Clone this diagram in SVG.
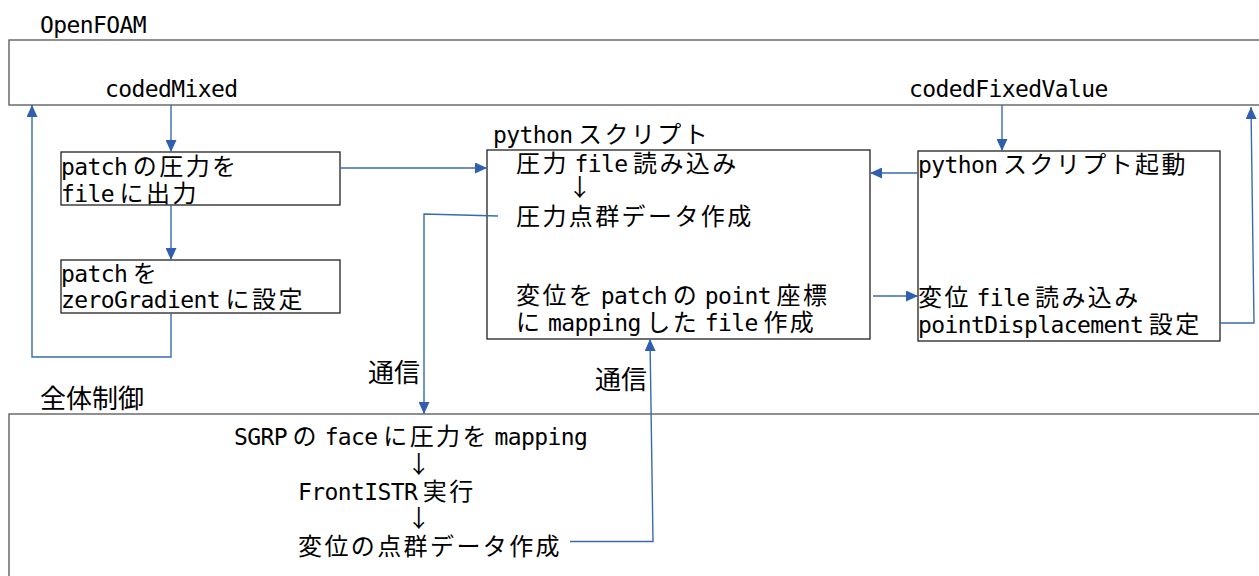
<svg xmlns="http://www.w3.org/2000/svg" width="1259" height="576" viewBox="0 0 1259 576">
<defs>
<style>
.t{font-family:"DejaVu Sans Mono","Noto Sans CJK JP",monospace;font-size:23px;letter-spacing:-0.6px;fill:#000}
.j{font-family:"Noto Sans CJK JP",sans-serif;font-size:24px;letter-spacing:2.4px}
.s{font-family:"Noto Sans CJK JP",sans-serif;font-size:25px;letter-spacing:0}
.lab{font-family:"Noto Sans CJK JP",sans-serif;font-size:26px;fill:#000}
.grp{fill:#fff;stroke:#555;stroke-width:1.3}
.box{fill:#fff;stroke:#222;stroke-width:1.3}
.c{fill:none;stroke:#3a69b4;stroke-width:1.4}
.m{text-anchor:middle}
</style>
<marker id="ah" markerUnits="userSpaceOnUse" markerWidth="12" markerHeight="11" refX="12" refY="5.5" orient="auto">
<path d="M0,0 L12,5.5 L0,11 z" fill="#2f5fae"/>
</marker>
</defs>
<rect width="1259" height="576" fill="#fff"/>

<g id="openfoam">
<rect class="grp" x="9" y="40" width="1260" height="65"/>
<text class="t" x="40" y="33">OpenFOAM</text>
<text class="t" x="105" y="97">codedMixed</text>
<text class="t" x="909" y="97">codedFixedValue</text>
</g>

<g id="zentai">
<rect class="grp" x="9" y="414" width="1260" height="200"/>
<text class="lab" x="40" y="408">全体制御</text>
<text class="t" x="234" y="445">SGRP<tspan class="s"> </tspan><tspan class="j">の</tspan><tspan class="s"> </tspan>face<tspan class="s"> </tspan><tspan class="j">に圧力を</tspan><tspan class="s"> </tspan>mapping</text>
<text class="t m" x="420" y="473"><tspan class="j">↓</tspan></text>
<text class="t" x="298" y="500">FrontISTR<tspan class="s"> </tspan><tspan class="j">実行</tspan></text>
<text class="t m" x="420" y="527"><tspan class="j">↓</tspan></text>
<text class="t" x="298" y="555"><tspan class="j">変位の点群データ作成</tspan></text>
</g>

<g id="boxA">
<rect class="box" x="61" y="152" width="279" height="53"/>
<text class="t" x="61" y="175">patch<tspan class="s"> </tspan><tspan class="j">の圧力を</tspan></text>
<text class="t" x="61" y="201.5">file<tspan class="s"> </tspan><tspan class="j">に出力</tspan></text>
</g>

<g id="boxB">
<rect class="box" x="61" y="260" width="279" height="53"/>
<text class="t" x="61" y="281.5">patch<tspan class="s"> </tspan><tspan class="j">を</tspan></text>
<text class="t" x="61" y="308">zeroGradient<tspan class="s"> </tspan><tspan class="j">に設定</tspan></text>
</g>

<g id="python">
<rect class="box" x="487" y="150" width="383" height="189"/>
<text class="t" x="493" y="143">python<tspan class="s"> </tspan><tspan class="j">スクリプト</tspan></text>
<text class="t" x="516" y="171.5"><tspan class="j">圧力</tspan><tspan class="s"> </tspan>file<tspan class="s"> </tspan><tspan class="j">読み込み</tspan></text>
<text class="t m" x="581" y="196"><tspan class="j">↓</tspan></text>
<text class="t" x="516" y="225"><tspan class="j">圧力点群データ作成</tspan></text>
<text class="t" x="516" y="304"><tspan class="j">変位を</tspan><tspan class="s"> </tspan>patch<tspan class="s"> </tspan><tspan class="j">の</tspan><tspan class="s"> </tspan>point<tspan class="s"> </tspan><tspan class="j">座標</tspan></text>
<text class="t" x="516" y="331"><tspan class="j">に</tspan><tspan class="s"> </tspan>mapping<tspan class="s"> </tspan><tspan class="j">した</tspan><tspan class="s"> </tspan>file<tspan class="s"> </tspan><tspan class="j">作成</tspan></text>
</g>

<g id="launcher">
<rect class="box" x="918" y="151" width="302" height="190"/>
<text class="t" x="918" y="173">python<tspan class="s"> </tspan><tspan class="j">スクリプト起動</tspan></text>
<text class="t" x="918" y="306"><tspan class="j">変位</tspan><tspan class="s"> </tspan>file<tspan class="s"> </tspan><tspan class="j">読み込み</tspan></text>
<text class="t" x="918" y="333">pointDisplacement<tspan class="s"> </tspan><tspan class="j">設定</tspan></text>
</g>

<g id="connectors">
<path class="c" d="M171,105 V152" marker-end="url(#ah)"/>
<path class="c" d="M171,205 V260" marker-end="url(#ah)"/>
<path class="c" d="M171,313 V357 H32 V105" marker-end="url(#ah)"/>
<path class="c" d="M340,168 H487" marker-end="url(#ah)"/>
<path class="c" d="M498,216 L424,214 V414" marker-end="url(#ah)"/>
<path class="c" d="M570,541.5 H653 L650,339" marker-end="url(#ah)"/>
<path class="c" d="M1002,105 V151" marker-end="url(#ah)"/>
<path class="c" d="M918,173 H870" marker-end="url(#ah)"/>
<path class="c" d="M873,296 H918" marker-end="url(#ah)"/>
<path class="c" d="M1220,323 H1254 L1251,107" marker-end="url(#ah)"/>
<text class="lab" x="368" y="382">通信</text>
<text class="lab" x="595" y="389">通信</text>
</g>
</svg>
